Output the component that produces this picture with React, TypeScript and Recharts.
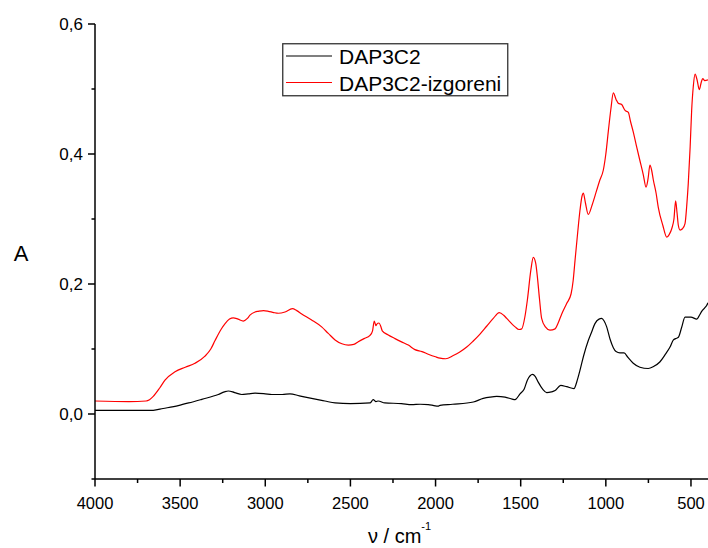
import React from 'react';
import { LineChart, Line, XAxis, YAxis, Legend, Label } from 'recharts';

// ---------- data ----------
const seriesNames = ['DAP3C2', 'DAP3C2-izgoreni'];
const seriesColors = ['#000000', '#ff0000'];

const blackWn = [4000, 3800, 3700, 3658, 3600, 3511, 3450, 3373, 3276, 3240, 3217, 3180, 3138, 3100, 3060, 3000, 2962, 2900, 2855, 2800, 2728, 2650, 2590, 2500, 2385, 2366, 2350, 2337, 2298, 2200, 2140, 2090, 2043, 2010, 1985, 1974, 1900, 1778, 1720, 1680, 1641, 1592, 1550, 1533, 1504, 1480, 1461, 1430, 1415, 1397, 1370, 1347, 1320, 1298, 1265, 1230, 1187, 1170, 1152, 1130, 1103, 1085, 1064, 1040, 1025, 1010, 995, 975, 956, 940, 917, 893, 870, 839, 800, 751, 720, 683, 650, 623, 603, 590, 574, 555, 535, 500, 466, 450, 437, 420, 408, 400];
const blackA = [0.0057, 0.0055, 0.0055, 0.0057, 0.0085, 0.013, 0.017, 0.0226, 0.030, 0.034, 0.0354, 0.033, 0.030, 0.031, 0.032, 0.031, 0.030, 0.030, 0.031, 0.028, 0.024, 0.020, 0.017, 0.016, 0.017, 0.022, 0.019, 0.020, 0.017, 0.016, 0.0144, 0.015, 0.0144, 0.013, 0.012, 0.0134, 0.015, 0.0185, 0.024, 0.026, 0.027, 0.026, 0.023, 0.022, 0.031, 0.038, 0.052, 0.061, 0.058, 0.049, 0.038, 0.033, 0.034, 0.036, 0.044, 0.042, 0.039, 0.050, 0.067, 0.090, 0.113, 0.125, 0.139, 0.146, 0.147, 0.143, 0.134, 0.115, 0.102, 0.096, 0.094, 0.094, 0.087, 0.078, 0.072, 0.070, 0.073, 0.080, 0.092, 0.103, 0.114, 0.116, 0.118, 0.133, 0.149, 0.149, 0.146, 0.152, 0.158, 0.163, 0.167, 0.171];

const redWn = [4000, 3800, 3700, 3680, 3658, 3620, 3589, 3530, 3470, 3413, 3354, 3320, 3295, 3260, 3236, 3210, 3188, 3160, 3129, 3105, 3090, 3060, 3041, 3010, 2982, 2950, 2923, 2884, 2841, 2815, 2786, 2730, 2669, 2630, 2590, 2550, 2512, 2480, 2454, 2420, 2385, 2370, 2360, 2350, 2346, 2332, 2322, 2313, 2280, 2238, 2200, 2160, 2121, 2080, 2043, 2000, 1974, 1940, 1896, 1860, 1817, 1780, 1739, 1700, 1661, 1626, 1600, 1582, 1533, 1510, 1494, 1475, 1461, 1440, 1426, 1412, 1402, 1390, 1377, 1355, 1328, 1298, 1280, 1259, 1230, 1204, 1192, 1181, 1165, 1152, 1140, 1132, 1120, 1103, 1080, 1054, 1035, 1015, 1000, 985, 970, 956, 940, 927, 907, 887, 868, 855, 839, 820, 800, 780, 764, 752, 741, 731, 721, 705, 692, 665, 642, 628, 613, 600, 590, 582, 574, 564, 550, 535, 525, 516, 505, 496, 486, 476, 465, 451, 440, 431, 419, 400];
const redA = [0.020, 0.019, 0.020, 0.022, 0.027, 0.040, 0.052, 0.065, 0.072, 0.078, 0.089, 0.100, 0.113, 0.130, 0.139, 0.146, 0.148, 0.146, 0.143, 0.147, 0.152, 0.157, 0.158, 0.159, 0.158, 0.156, 0.155, 0.157, 0.162, 0.159, 0.154, 0.145, 0.134, 0.124, 0.114, 0.108, 0.106, 0.107, 0.111, 0.116, 0.121, 0.128, 0.143, 0.136, 0.138, 0.140, 0.135, 0.128, 0.122, 0.116, 0.111, 0.106, 0.099, 0.096, 0.092, 0.088, 0.086, 0.085, 0.090, 0.095, 0.103, 0.112, 0.123, 0.135, 0.147, 0.156, 0.152, 0.147, 0.134, 0.130, 0.131, 0.150, 0.175, 0.222, 0.241, 0.232, 0.211, 0.178, 0.147, 0.134, 0.129, 0.131, 0.140, 0.154, 0.170, 0.185, 0.205, 0.236, 0.280, 0.313, 0.335, 0.340, 0.325, 0.307, 0.322, 0.344, 0.360, 0.375, 0.400, 0.436, 0.470, 0.494, 0.484, 0.478, 0.476, 0.467, 0.464, 0.450, 0.434, 0.412, 0.390, 0.368, 0.349, 0.362, 0.383, 0.375, 0.360, 0.340, 0.318, 0.290, 0.272, 0.276, 0.285, 0.300, 0.328, 0.310, 0.290, 0.283, 0.285, 0.293, 0.320, 0.354, 0.410, 0.467, 0.505, 0.523, 0.515, 0.499, 0.510, 0.516, 0.513, 0.514];

const xTicks = [4000, 3750, 3500, 3250, 3000, 2750, 2500, 2250, 2000, 1750, 1500, 1250, 1000, 750, 500];
const xLabeled = [4000, 3500, 3000, 2500, 2000, 1500, 1000, 500];
const yTicks = [-0.1, 0, 0.1, 0.2, 0.3, 0.4, 0.5, 0.6];
const yLabeled = [0, 0.2, 0.4, 0.6];
const xDomain = [400, 4000];
const yDomain = [-0.1, 0.6];

const blackData = blackWn.map((wn, i) => ({ wn, a: blackA[i] }));
const redData = redWn.map((wn, i) => ({ wn, a: redA[i] }));

const FONT = "Arial, 'Liberation Sans', sans-serif";

const fmtY = (v: number) => v.toFixed(1).replace('.', ',');
const isLabeled = (arr: number[], v: number) => arr.some((t) => Math.abs(t - v) < 1e-6);

const XTick = (props: any) => {
  const { x, payload } = props;
  const y = 479;
  const major = isLabeled(xLabeled, payload.value);
  return (
    <g>
      <line x1={x} x2={x} y1={y} y2={y + (major ? 7.5 : 4)} stroke="#000" strokeWidth={1.5} />
      {major && (
        <text x={x} y={y + 30} textAnchor="middle" fontFamily={FONT} fontSize={16.5} fill="#000">
          {payload.value}
        </text>
      )}
    </g>
  );
};

const YTick = (props: any) => {
  const { y, payload } = props;
  const x = 95;
  const major = isLabeled(yLabeled, payload.value);
  return (
    <g>
      <line x1={x - (major ? 7 : 3.5)} x2={x} y1={y} y2={y} stroke="#000" strokeWidth={1.5} />
      {major && (
        <text x={x - 12} y={y + 6} textAnchor="end" fontFamily={FONT} fontSize={17} fill="#000">
          {fmtY(payload.value)}
        </text>
      )}
    </g>
  );
};

const XTitle = () => (
  <text x={368} y={543} fontFamily={FONT} fontSize={20} fill="#000">
    ν / cm
    <tspan fontSize={11} dy={-13}>-1</tspan>
  </text>
);

const YTitle = () => (
  <text x={21} y={261} textAnchor="middle" fontFamily={FONT} fontSize={22} fill="#000">
    A
  </text>
);

const LegendBox = () => (
  <svg width={227} height={54} style={{ display: 'block' }}>
    <rect x={0.75} y={0.75} width={225} height={52} fill="#fff" stroke="#333" strokeWidth={1.3} />
    {seriesNames.map((name, i) => (
      <g key={name}>
        <line x1={4} x2={50} y1={13 + i * 26.5} y2={13 + i * 26.5} stroke={seriesColors[i]} strokeWidth={1.2} />
        <text x={57} y={21 + i * 26.5} fontFamily={FONT} fontSize={21} fill="#000">
          {name}
        </text>
      </g>
    ))}
  </svg>
);

export default function App() {
  return (
    <div style={{ position: 'absolute', left: 0, top: 0, width: 708, height: 548, background: '#fff' }}>
      <LineChart width={708} height={548} margin={{ top: 24, right: 0, left: 55, bottom: 29 }}>
        <XAxis
          type="number"
          dataKey="wn"
          domain={xDomain}
          reversed
          allowDataOverflow
          ticks={xTicks}
          interval={0}
          height={40}
          tickSize={0}
          tickMargin={0}
          tick={XTick}
          axisLine={{ stroke: '#000', strokeWidth: 1.5 }}
          tickLine={false}
        >
          <Label content={XTitle} />
        </XAxis>
        <YAxis
          type="number"
          dataKey="a"
          domain={yDomain}
          allowDataOverflow
          ticks={yTicks}
          interval={0}
          width={40}
          tickSize={0}
          tickMargin={0}
          tick={YTick}
          axisLine={{ stroke: '#000', strokeWidth: 1.5 }}
          tickLine={false}
        >
          <Label content={YTitle} />
        </YAxis>
        <Legend
          layout="vertical"
          align="center"
          verticalAlign="middle"
          content={LegendBox}
          wrapperStyle={{ position: 'absolute', left: 282, top: 43, width: 227, height: 54 }}
        />
        <Line
          data={blackData}
          dataKey="a"
          name={seriesNames[0]}
          type="monotone"
          stroke={seriesColors[0]}
          strokeWidth={1.2}
          dot={false}
          isAnimationActive={false}
        />
        <Line
          data={redData}
          dataKey="a"
          name={seriesNames[1]}
          type="monotone"
          stroke={seriesColors[1]}
          strokeWidth={1.2}
          dot={false}
          isAnimationActive={false}
        />
      </LineChart>
    </div>
  );
}
